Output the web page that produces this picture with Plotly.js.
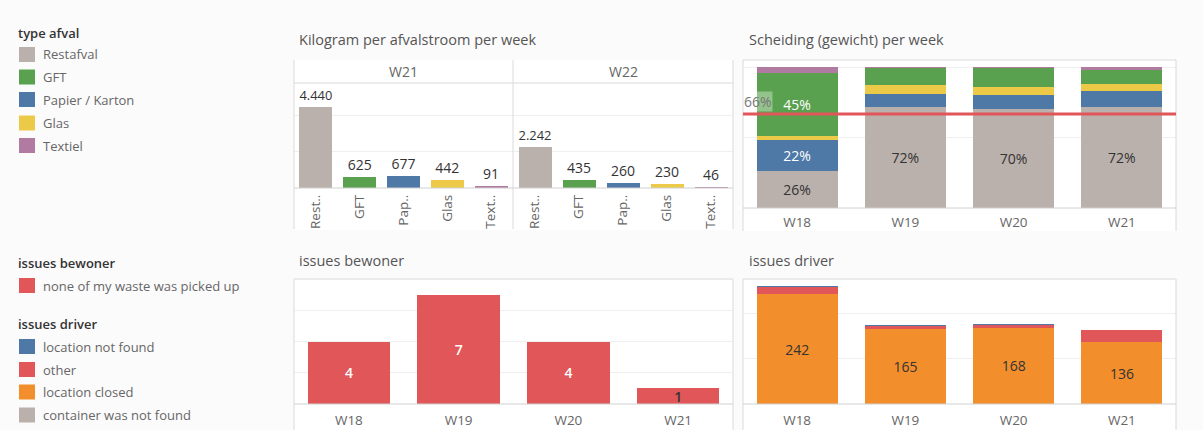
<!DOCTYPE html>
<html><head><meta charset="utf-8">
<script src="https://cdn.plot.ly/plotly-3.0.1.min.js"></script>
<style>html,body{margin:0;padding:0;background:#fcfbfc}#chart{width:1203px;height:430px}</style>
</head><body><div id="chart"></div>
<script>
// ---------- data ----------
const kgWeeks = ['W21', 'W22'];
const kgCategories = ['Restafval', 'GFT', 'Papier / Karton', 'Glas', 'Textiel'];
const kgTickLabels = ['Rest..', 'GFT', 'Pap..', 'Glas', 'Text..'];
const kgW21 = [4440, 625, 677, 442, 91];
const kgW22 = [2242, 435, 260, 230, 46];

const weeks = ['W18', 'W19', 'W20', 'W21'];
const pctRestafval = [26, 72, 70, 72];
const pctPapier = [22, 9, 10, 11];
const pctGlas = [3, 6, 6, 5];
const pctGFT = [45, 12, 13, 10];
const pctTextiel = [4, 1, 1, 2];
const refLinePct = 66.7;

const bewonerIssues = ['none of my waste was picked up'];
const bewonerCounts = [4, 7, 4, 1];

const driverIssues = ['location not found', 'other', 'location closed', 'container was not found'];
const driverNotFound = [2, 2, 2, 1];
const driverOther = [16, 6, 5, 26];
const driverClosed = [242, 165, 168, 136];
const driverContainer = [0, 0, 0, 0];

// ---------- styling ----------
const afvalColors = {'Restafval':'#bab0ac','GFT':'#59a14f','Papier / Karton':'#4e79a7','Glas':'#edc948','Textiel':'#b07aa1'};
const driverColors = {'location not found':'#4e79a7','other':'#e15759','location closed':'#f28e2b','container was not found':'#bab0ac'};
const bewonerColor = '#e15759';
const FONT = '"Open Sans", "Noto Sans", sans-serif';
const W = 1203, H = 430;
const X = p => p / W, Y = p => 1 - p / H;
const BORDER = '#dadada', GRID = '#efefef';

// ---------- traces ----------
const traces = [];
function kgTrace(vals, xa) {
  return {type:'bar', x:kgCategories, y:vals, xaxis:xa, yaxis:'y',
    marker:{color:kgCategories.map(c => afvalColors[c])},
    texttemplate:'%{y:,.0f}', textposition:'outside', cliponaxis:false,
    textfont:{family:FONT, size:14, color:'#333'}, showlegend:false, hoverinfo:'skip'};
}
traces.push(kgTrace(kgW21, 'x'), kgTrace(kgW22, 'x2'));

const scheidingStack = [
  {name:'Restafval', vals:pctRestafval, show:[true,true,true,true], tc:'#333'},
  {name:'Papier / Karton', vals:pctPapier, show:[true,false,false,false], tc:'#fff'},
  {name:'Glas', vals:pctGlas, show:[false,false,false,false], tc:'#333'},
  {name:'GFT', vals:pctGFT, show:[true,false,false,false], tc:'#fff'},
  {name:'Textiel', vals:pctTextiel, show:[false,false,false,false], tc:'#333'}
];
scheidingStack.forEach(s => {
  traces.push({type:'bar', x:weeks, y:s.vals, xaxis:'x3', yaxis:'y3', name:s.name,
    marker:{color:afvalColors[s.name]},
    text:s.vals.map((v,i) => s.show[i] ? v + '%' : ''),
    textposition:'inside', insidetextanchor:'middle', textangle:0, constraintext:'none',
    textfont:{family:FONT, size:14, color:s.tc}, showlegend:false, hoverinfo:'skip'});
});

traces.push({type:'bar', x:weeks, y:bewonerCounts, xaxis:'x4', yaxis:'y4', name:bewonerIssues[0],
  marker:{color:bewonerColor}, text:bewonerCounts.map(String),
  textposition:'inside', insidetextanchor:'middle', textangle:0, constraintext:'none',
  textfont:{family:FONT, size:14, color:bewonerCounts.map(v => v > 1 ? '#fff' : '#333'), weight:600},
  showlegend:false, hoverinfo:'skip'});

const driverStack = [
  {name:'location closed', vals:driverClosed, label:true},
  {name:'other', vals:driverOther},
  {name:'location not found', vals:driverNotFound},
  {name:'container was not found', vals:driverContainer}
];
driverStack.forEach(s => {
  traces.push({type:'bar', x:weeks, y:s.vals, xaxis:'x5', yaxis:'y5', name:s.name,
    marker:{color:driverColors[s.name]},
    text:s.label ? s.vals.map(String) : undefined,
    textposition:s.label ? 'inside' : 'none', insidetextanchor:'middle', textangle:0, constraintext:'none',
    textfont:{family:FONT, size:14, color:'#333'}, showlegend:false, hoverinfo:'skip'});
});

// ---------- axes ----------
const xBase = {type:'category', showgrid:false, zeroline:false, showline:false, ticks:'',
  tickfont:{family:FONT, size:13.5, color:'#666'}, fixedrange:true};
const yBase = {showticklabels:false, zeroline:false, showline:false, ticks:'', gridcolor:GRID, fixedrange:true};

const layout = {
  width:W, height:H, margin:{l:0, r:0, t:0, b:0},
  paper_bgcolor:'#fcfbfc', plot_bgcolor:'rgba(0,0,0,0)',
  barmode:'stack', bargap:0.25, separators:',.', showlegend:false,
  font:{family:FONT, color:'#666'},
  xaxis: Object.assign({}, xBase, {domain:[X(294), X(513)], anchor:'y', tickangle:-90,
    tickvals:kgCategories, ticktext:kgTickLabels, ticklabelstandoff:3}),
  xaxis2: Object.assign({}, xBase, {domain:[X(513), X(733)], anchor:'y', tickangle:-90,
    tickvals:kgCategories, ticktext:kgTickLabels, ticklabelstandoff:3}),
  yaxis: Object.assign({}, yBase, {domain:[Y(188), Y(83)], anchor:'x', range:[0, 5755], dtick:2000}),
  xaxis3: Object.assign({}, xBase, {domain:[X(743), X(1176)], anchor:'y3', ticklabelstandoff:4}),
  yaxis3: Object.assign({}, yBase, {domain:[Y(208), Y(60)], anchor:'x3', range:[0, 105], dtick:50}),
  xaxis4: Object.assign({}, xBase, {domain:[X(294), X(733)], anchor:'y4', ticklabelstandoff:6}),
  yaxis4: Object.assign({}, yBase, {domain:[Y(404), Y(279)], anchor:'x4', range:[0, 8], dtick:2}),
  xaxis5: Object.assign({}, xBase, {domain:[X(743), X(1176)], anchor:'y5', ticklabelstandoff:6}),
  yaxis5: Object.assign({}, yBase, {domain:[Y(404), Y(279)], anchor:'x5', range:[0, 275], dtick:100}),
  shapes:[], annotations:[]
};

// ---------- panel frames ----------
const S = layout.shapes, A = layout.annotations;
function rectBg(x0, y0, x1, y1) {
  S.push({type:'rect', xref:'paper', yref:'paper', x0:X(x0), x1:X(x1), y0:Y(y0), y1:Y(y1),
    fillcolor:'#ffffff', line:{width:0}, layer:'below'});
}
function hline(x0, x1, y, c) {
  S.push({type:'line', xref:'paper', yref:'paper', x0:X(x0), x1:X(x1), y0:Y(y), y1:Y(y),
    line:{color:c || BORDER, width:1}});
}
function vline(x, y0, y1) {
  S.push({type:'line', xref:'paper', yref:'paper', x0:X(x), x1:X(x), y0:Y(y0), y1:Y(y1),
    line:{color:BORDER, width:1}});
}
rectBg(294, 60, 733, 230); rectBg(743, 60, 1176, 231); rectBg(294, 279, 733, 430); rectBg(743, 279, 1176, 430);
// top-middle
vline(294, 60, 229); vline(513, 60, 229); vline(733, 60, 229);
hline(294, 733, 83); hline(294, 733, 188, '#d0d0d0');
// top-right
hline(743, 1176, 60); vline(743, 60, 231); vline(1176, 60, 231); hline(743, 1176, 208, '#d0d0d0');
// bottom-middle
hline(294, 733, 279); vline(294, 279, 430); vline(733, 279, 430); hline(294, 733, 404, '#d0d0d0');
// bottom-right
hline(743, 1176, 279); vline(743, 279, 430); vline(1176, 279, 430); hline(743, 1176, 404, '#d0d0d0');

// reference line
S.push({type:'line', xref:'x3 domain', yref:'y3', x0:0, x1:1, y0:refLinePct, y1:refLinePct,
  line:{color:'#e15759', width:3}});
A.push({xref:'paper', yref:'y3', x:X(743), y:refLinePct, xanchor:'left', yanchor:'bottom', yshift:2,
  text:Math.floor(refLinePct) + '%', showarrow:false, bgcolor:'rgba(255,255,255,0.35)', borderpad:0,
  font:{family:FONT, size:14, color:'#777'}});

// titles
function txt(x, y, t, size, color, anchor, weight) {
  A.push({xref:'paper', yref:'paper', x:X(x), y:Y(y), text:t, showarrow:false,
    xanchor:anchor || 'left', yanchor:'middle',
    font:{family:FONT, size:size, color:color, weight:weight || 400}});
}
txt(297, 40, 'Kilogram per afvalstroom per week', 14.5, '#555');
txt(747, 40, 'Scheiding (gewicht) per week', 14.5, '#555');
txt(297, 260, 'issues bewoner', 14.5, '#555');
txt(747, 260, 'issues driver', 14.5, '#555');
txt(403.5, 72, kgWeeks[0], 14, '#666', 'center');
txt(623, 72, kgWeeks[1], 14, '#666', 'center');

// ---------- legends ----------
function legendItem(yc, name, color) {
  S.push({type:'rect', xref:'paper', yref:'paper', x0:X(19), x1:X(35), y0:Y(yc + 7.5), y1:Y(yc - 7.5),
    fillcolor:color, line:{width:0}});
  txt(41, yc, name, 13, '#666');
}
txt(16, 33, 'type afval', 13, '#333', 'left', 600);
const afvalLegendY = [54.5, 77, 99.5, 123, 145.5];
kgCategories.forEach((c, i) => legendItem(afvalLegendY[i], c, afvalColors[c]));
txt(16, 263, 'issues bewoner', 13, '#333', 'left', 600);
legendItem(285.5, bewonerIssues[0], bewonerColor);
txt(16, 324, 'issues driver', 13, '#333', 'left', 600);
const driverLegendY = [346.5, 369.5, 392, 415];
driverIssues.forEach((d, i) => legendItem(driverLegendY[i], d, driverColors[d]));

Plotly.newPlot('chart', traces, layout, {displayModeBar:false, staticPlot:true});
</script></body></html>
